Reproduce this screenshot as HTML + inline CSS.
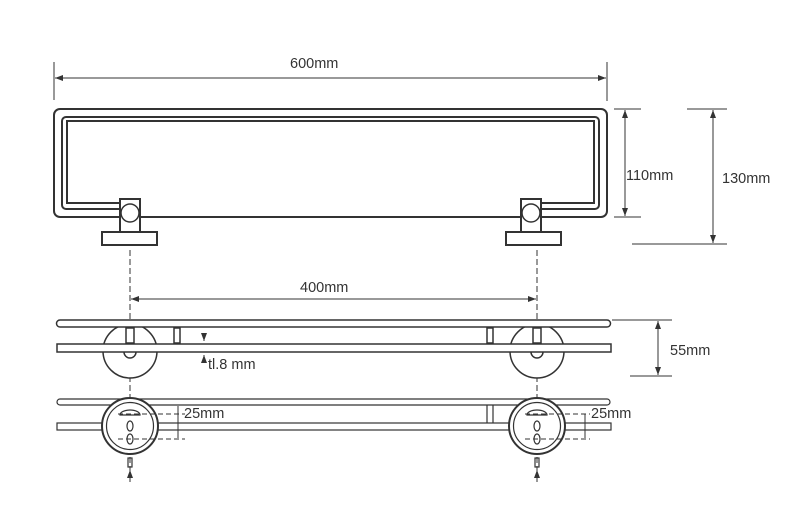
<!DOCTYPE html><html><head><style>body{margin:0;background:#fff}svg{display:block}text{font-family:"Liberation Sans",sans-serif;font-size:14.5px;fill:#333}</style></head><body>
<svg width="800" height="524" viewBox="0 0 800 524">
<defs><marker id="a" markerWidth="8" markerHeight="6" refX="8" refY="3" orient="auto-start-reverse"><path d="M0,0L8,3L0,6z" fill="#333"/></marker></defs>
<g stroke="#333" fill="none" stroke-width="1">
<line x1="54" y1="62" x2="54" y2="100"/><line x1="607" y1="62" x2="607" y2="101"/>
<line x1="55" y1="78" x2="606" y2="78" marker-start="url(#a)" marker-end="url(#a)"/>
<line x1="614" y1="109" x2="641" y2="109"/><line x1="614" y1="217" x2="641" y2="217"/>
<line x1="625" y1="110" x2="625" y2="216" marker-start="url(#a)" marker-end="url(#a)"/>
<line x1="687" y1="109" x2="727" y2="109"/><line x1="632" y1="244" x2="727" y2="244"/>
<line x1="713" y1="110" x2="713" y2="243" marker-start="url(#a)" marker-end="url(#a)"/>
<g stroke-width="2">
<rect x="54" y="109" width="553" height="108" rx="6"/>
<path d="M120,209 H66 a4,4 0 0 1 -4,-4 V121 a4,4 0 0 1 4,-4 H595 a4,4 0 0 1 4,4 V205 a4,4 0 0 1 -4,4 H540"/>
<path d="M120,203 H67 V121 H594 V203 H540"/>
<rect x="120" y="199" width="20" height="33" fill="#fff"/>
<rect x="521" y="199" width="20" height="33" fill="#fff"/>
<rect x="102" y="232" width="55" height="13" fill="#fff"/>
<rect x="506" y="232" width="55" height="13" fill="#fff"/>
</g>
<circle cx="130" cy="213" r="9" fill="#fff" stroke-width="1.5"/>
<circle cx="531" cy="213" r="9" fill="#fff" stroke-width="1.5"/>
<line x1="130" y1="250" x2="130" y2="470" stroke-dasharray="6,3"/>
<line x1="537" y1="250" x2="537" y2="470" stroke-dasharray="6,3"/>
<line x1="131" y1="299" x2="536" y2="299" marker-start="url(#a)" marker-end="url(#a)"/>
<g stroke-width="1.5">
<circle cx="130" cy="351" r="27" fill="#fff"/><circle cx="537" cy="351" r="27" fill="#fff"/>
<path d="M60,320 H607 a3.5,3.5 0 0 1 0,7 H60 a3.5,3.5 0 0 1 0,-7z" fill="#fff"/>
<rect x="57" y="344" width="554" height="8" fill="#fff"/>
<rect x="174" y="328" width="6" height="15"/><rect x="487" y="328" width="6" height="15"/>
<rect x="126" y="328" width="8" height="15"/><rect x="533" y="328" width="8" height="15"/>
<path d="M124,352 a6,6 0 0 0 12,0"/><path d="M531,352 a6,6 0 0 0 12,0"/>
</g>
<line x1="204" y1="334" x2="204" y2="341" marker-end="url(#a)"/>
<line x1="204" y1="362" x2="204" y2="355" marker-end="url(#a)"/>
<line x1="612" y1="320" x2="672" y2="320"/><line x1="630" y1="376" x2="672" y2="376"/>
<line x1="658" y1="321" x2="658" y2="375" marker-start="url(#a)" marker-end="url(#a)"/>
<g stroke-width="1.2">
<path d="M60,399 H607 a3,3 0 0 1 0,6 H60 a3,3 0 0 1 0,-6z"/>
<rect x="57" y="423" width="554" height="7"/>
<line x1="487" y1="405" x2="487" y2="423"/><line x1="493" y1="405" x2="493" y2="423"/>
<circle cx="130" cy="426" r="28" fill="#fff" stroke-width="2"/><circle cx="130" cy="426" r="23.5"/>
<circle cx="537" cy="426" r="28" fill="#fff" stroke-width="2"/><circle cx="537" cy="426" r="23.5"/>
<path d="M120,415 a10,5 0 0 1 20,0 z"/><path d="M527,415 a10,5 0 0 1 20,0 z"/>
<ellipse cx="130" cy="426" rx="3" ry="5"/><ellipse cx="537" cy="426" rx="3" ry="5"/>
<ellipse cx="130" cy="439" rx="3" ry="5"/><ellipse cx="537" cy="439" rx="3" ry="5"/>
<rect x="128" y="458" width="4" height="9"/><rect x="535" y="458" width="4" height="9"/>
</g>
<g stroke-dasharray="5,3">
<line x1="118" y1="414" x2="185" y2="414"/><line x1="118" y1="439" x2="185" y2="439"/>
<line x1="525" y1="414" x2="590" y2="414"/><line x1="525" y1="439" x2="590" y2="439"/>
</g>
<line x1="178" y1="406" x2="178" y2="438"/><line x1="585" y1="414" x2="585" y2="438"/>
<line x1="130" y1="482" x2="130" y2="470" marker-end="url(#a)"/>
<line x1="537" y1="482" x2="537" y2="470" marker-end="url(#a)"/>
</g>
<text x="290" y="68">600mm</text>
<text x="626" y="180">110mm</text>
<text x="722" y="183">130mm</text>
<text x="300" y="292">400mm</text>
<text x="208" y="369">tl.8 mm</text>
<text x="670" y="355">55mm</text>
<text x="184" y="418">25mm</text>
<text x="591" y="418">25mm</text>
</svg></body></html>
